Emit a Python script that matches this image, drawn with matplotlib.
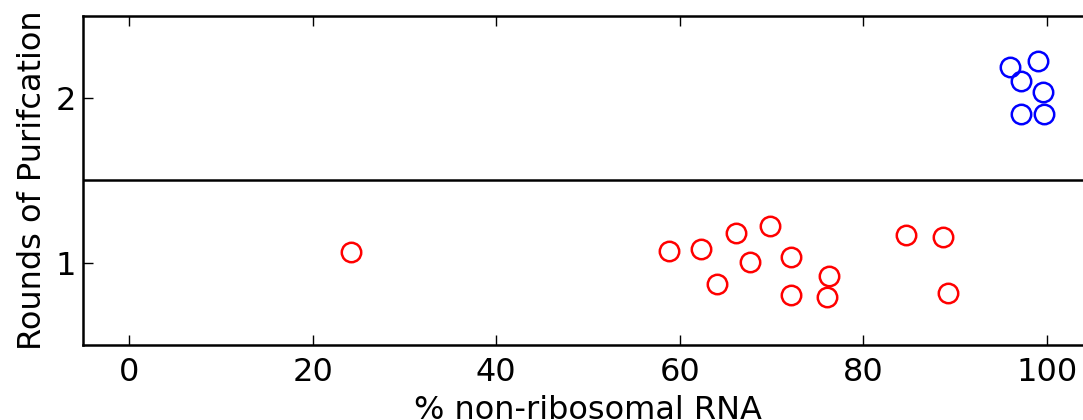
import matplotlib
matplotlib.use("Agg")
import matplotlib.pyplot as plt

# One round of purification (red)
red_x = [24.2, 58.8, 62.3, 66.1, 64.1, 67.7, 69.8, 72.1, 72.1, 76.1, 76.3, 84.7, 88.7, 89.2]
red_y = [1.067, 1.073, 1.085, 1.18, 0.867, 1.006, 1.224, 1.036, 0.80, 0.788, 0.921, 1.17, 1.158, 0.812]
# Two rounds of purification (blue)
blue_x = [96.0, 99.1, 97.2, 99.6, 97.2, 99.7]
blue_y = [2.188, 2.224, 2.103, 2.036, 1.903, 1.903]

x_ticks = [0, 20, 40, 60, 80, 100]
y_ticks = [1, 2]
divider_y = 1.5

W, H = 1083, 420
fig = plt.figure(figsize=(W / 100, H / 100), dpi=100)
left, right = 83.3 / W, 1092.6 / W
bottom, top = 1 - 344.7 / H, 1 - 16.0 / H
ax = fig.add_axes([left, bottom, right - left, top - bottom])

ax.plot(red_x, red_y, 'o', mfc='none', mec='red', ms=14, mew=1.8, ls='none')
ax.plot(blue_x, blue_y, 'o', mfc='none', mec='blue', ms=14, mew=1.8, ls='none')
ax.axhline(divider_y, color='black', lw=1.8)

ax.set_xlim(-5, 105)
ax.set_ylim(0.5, 2.5)
ax.set_xticks(x_ticks)
ax.set_yticks(y_ticks)
ax.tick_params(direction='in', length=7, width=1, labelsize=23, top=True, right=True)
ax.tick_params(axis='x', pad=9)
ax.tick_params(axis='y', pad=5)
for s in ax.spines.values():
    s.set_linewidth(1.8)

ax.set_xlabel('% non-ribosomal RNA', fontsize=23, labelpad=5)
ax.set_ylabel('Rounds of Purifcation', fontsize=23, labelpad=6)

fig.savefig('out.png', dpi=100)
